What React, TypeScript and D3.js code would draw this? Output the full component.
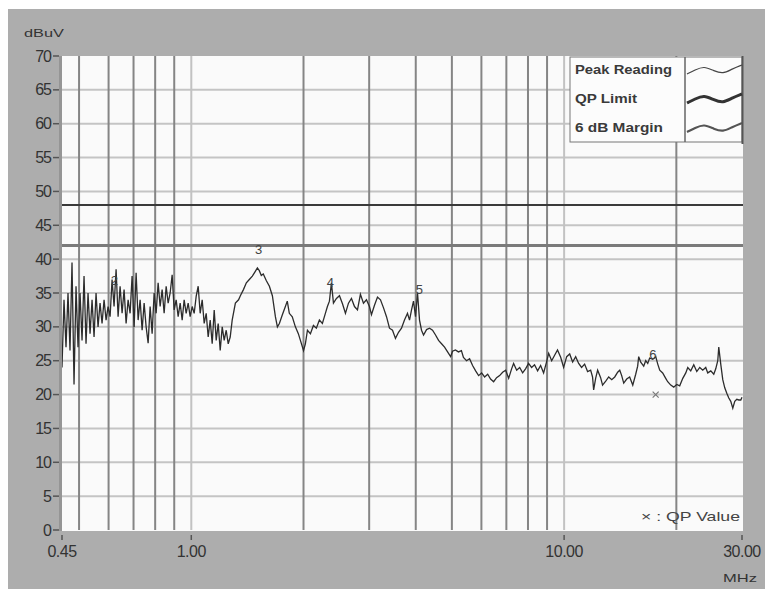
import React from "react";
import * as d3 from "d3";

// ---- data ----
const yTicks = [0, 5, 10, 15, 20, 25, 30, 35, 40, 45, 50, 55, 60, 65, 70];
const xTickValues = [0.45, 1, 10, 30];
const xTickLabels = ["0.45", "1.00", "10.00", "30.00"];
const gridFreqs = [0.5, 0.6, 0.7, 0.8, 0.9, 2, 3, 4, 5, 6, 7, 8, 9, 20];
const decadeFreqs = [1, 10];
const qpLimitDb = 48;
const marginDb = 42;
const qpValues: [number, number][] = [[17.6, 20]];
const peakLabels: [number, number, string][] = [
  [0.622, 36.2, "2"],
  [1.515, 40.8, "3"],
  [2.36, 35.9, "4"],
  [4.09, 34.8, "5"],
  [17.3, 25.2, "6"],
];
const legendItems = ["Peak Reading", "QP Limit", "6 dB Margin"];

const peakReading: [number, number][] = [
  [0.45, 24], [0.4556, 34], [0.4613, 27], [0.467, 35], [0.4728, 26.5], [0.4787, 39.5],
  [0.4847, 21.5], [0.4907, 36], [0.4968, 27], [0.503, 35], [0.5093, 28], [0.5156, 37.5],
  [0.522, 27.5], [0.5285, 35], [0.5351, 29], [0.5418, 34], [0.5485, 28.5], [0.5553, 35],
  [0.5622, 30], [0.5692, 33.5], [0.5763, 30.5], [0.5835, 34], [0.5908, 31], [0.5981, 33],
  [0.6056, 31.5], [0.6131, 37], [0.6207, 33], [0.6285, 38.5], [0.6363, 31.5], [0.6442, 36],
  [0.6522, 32], [0.6603, 35.5], [0.6686, 30.5], [0.6769, 34], [0.6853, 32], [0.6938, 37.5],
  [0.7025, 30], [0.7112, 38], [0.7201, 31], [0.729, 34], [0.7381, 29.5], [0.7473, 33.5],
  [0.7566, 30], [0.766, 27.6], [0.7755, 33], [0.7852, 29], [0.7949, 35], [0.8048, 32],
  [0.8148, 36.5], [0.825, 33], [0.8352, 35.5], [0.8456, 32], [0.8562, 36], [0.8668, 33.5],
  [0.8776, 35], [0.8885, 37.7], [0.8996, 32.5], [0.9108, 34], [0.9221, 31.5], [0.9336, 33.5],
  [0.9452, 31], [0.9569, 34], [0.9688, 32], [0.9809, 33.5], [0.9931, 31.5], [1.0055, 33],
  [1.018, 32], [1.0306, 34.5], [1.0435, 36], [1.0564, 32], [1.0696, 34], [1.0829, 30.5],
  [1.0964, 32], [1.11, 28.5], [1.1238, 31], [1.1378, 27.5], [1.152, 32.5], [1.1663, 28],
  [1.1808, 30.5], [1.1955, 26.5], [1.2104, 30], [1.2254, 28], [1.2407, 29.5], [1.2561, 27.5],
  [1.2717, 28.5], [1.2873, 31], [1.313, 33.5], [1.339, 34], [1.354, 34.6], [1.38, 35.5],
  [1.405, 36.5], [1.431, 37], [1.458, 37.5], [1.485, 38.2], [1.504, 38.7], [1.522, 38.3],
  [1.541, 37.6], [1.56, 37.8], [1.59, 36.8], [1.62, 36], [1.65, 34.6], [1.681, 31.5],
  [1.702, 30], [1.723, 30.5], [1.755, 31.8], [1.788, 33], [1.809, 33.8], [1.832, 32],
  [1.866, 31.5], [1.902, 30], [1.937, 29], [1.962, 28], [2.0, 26.5], [2.023, 27.5],
  [2.049, 29.5], [2.087, 29], [2.126, 30.2], [2.165, 29.8], [2.206, 31], [2.247, 30.5],
  [2.289, 32], [2.318, 33], [2.347, 33.8], [2.376, 36.5], [2.406, 33.5], [2.451, 34.2],
  [2.497, 34.6], [2.544, 33.4], [2.591, 32], [2.64, 33.5], [2.689, 34.2], [2.74, 33],
  [2.791, 32.5], [2.842, 34.8], [2.896, 33.5], [2.95, 34], [3.005, 33], [3.043, 31.8],
  [3.1, 33.2], [3.158, 34.4], [3.217, 34], [3.278, 32.8], [3.339, 31.5], [3.401, 29.8],
  [3.465, 29.5], [3.529, 28.3], [3.596, 29.2], [3.663, 29.8], [3.731, 31], [3.801, 32],
  [3.849, 31], [3.897, 32.5], [3.945, 33.8], [3.994, 31.5], [4.044, 35], [4.094, 31],
  [4.145, 29.5], [4.197, 28.8], [4.276, 29.6], [4.355, 29.8], [4.437, 29.5], [4.52, 28.8],
  [4.605, 28], [4.691, 27.5], [4.779, 27], [4.869, 26.3], [4.96, 25.6], [5.021, 26.4],
  [5.11, 26.6], [5.207, 26.3], [5.303, 26.5], [5.37, 25.5], [5.474, 25], [5.577, 25.3],
  [5.682, 24.3], [5.79, 23.5], [5.897, 22.8], [6.008, 23.2], [6.12, 22.6], [6.237, 23],
  [6.35, 22.3], [6.47, 21.9], [6.59, 22.5], [6.715, 22.8], [6.84, 23.3], [6.97, 23.6],
  [7.1, 22.4], [7.23, 23.8], [7.32, 24.6], [7.46, 23.6], [7.6, 24], [7.74, 23.2],
  [7.88, 23.8], [8.03, 24.6], [8.18, 24], [8.33, 24.4], [8.49, 23.5], [8.65, 24.3],
  [8.81, 23.2], [8.97, 24.8], [9.09, 26.1], [9.26, 25], [9.43, 25.8], [9.6, 26.6],
  [9.79, 25.5], [9.97, 24], [10.16, 25.6], [10.35, 26], [10.54, 24.8], [10.74, 25.6],
  [10.94, 24.6], [11.14, 24], [11.35, 24.5], [11.56, 23.4], [11.78, 23.6], [11.92, 22.6],
  [12.0, 20.7], [12.15, 22.4], [12.3, 23.6], [12.53, 22.5], [12.68, 21.4], [12.93, 22],
  [13.17, 22.6], [13.42, 22.2], [13.67, 22.6], [13.92, 23.3], [14.1, 23.6], [14.27, 22.8],
  [14.45, 21.7], [14.72, 22.3], [14.99, 22.6], [15.28, 21.4], [15.56, 23], [15.75, 24.2],
  [15.85, 25.6], [16.05, 24.8], [16.35, 24.2], [16.55, 25], [16.76, 24.6], [16.96, 25.4],
  [17.29, 25.2], [17.61, 25.6], [17.83, 24.5], [18.05, 23.6], [18.38, 23.2], [18.73, 22.4],
  [18.96, 21.9], [19.32, 21.4], [19.68, 21.1], [20.05, 21.5], [20.42, 21.3], [20.81, 22.4],
  [21.2, 23.2], [21.46, 24], [21.86, 23.5], [22.27, 24.4], [22.69, 23.4], [23.11, 24],
  [23.54, 23.6], [23.98, 24], [24.28, 23.2], [24.74, 23.5], [25.2, 23], [25.51, 23.8],
  [25.83, 25], [25.99, 27], [26.31, 24.5], [26.64, 22.2], [26.97, 21], [27.31, 20.2],
  [27.65, 19.5], [27.99, 19], [28.34, 18], [28.69, 19], [29.05, 19.3], [29.41, 19.2],
  [29.78, 19.2], [30.0, 19.6],
];

// ---- layout / style ----
const W = 773;
const H = 589;
const plotL = 62;
const plotR = 742;
const plotT = 56;
const plotB = 530;
const FONT = "'Liberation Sans', Arial, sans-serif";
const frameGray = "#adadad";

export default function App() {
  const x = d3.scaleLog().domain([0.45, 30]).range([plotL, plotR]);
  const y = d3.scaleLinear().domain([0, 70]).range([plotB, plotT]);

  const peakLine = d3
    .line<[number, number]>()
    .x((d) => x(d[0]))
    .y((d) => y(d[1]))(peakReading) as string;

  const legL = 570;
  const legR = 742;
  const legT = plotT + 1;
  const legB = 142;
  const legDiv = 685;
  const rowY = [70, 99, 128];
  const wave: [number, number][] = [
    [0, 5], [8, 1], [17, -3], [27, 2], [36, 5], [45, 0], [55, -4],
  ];
  const waveLine = d3
    .line<[number, number]>()
    .x((d) => d[0])
    .y((d) => d[1])
    .curve(d3.curveBasis)(wave) as string;
  const swatchStyles = [
    { stroke: "#444", width: 1.2 },
    { stroke: "#333", width: 3 },
    { stroke: "#555", width: 2.2 },
  ];

  return (
    <svg
      width={W - 8}
      height={H - 8}
      style={{ display: "block" }}
      fontFamily={FONT}
    >
      <g transform="translate(-8,-8)">
        <rect x={8} y={9} width={W - 8} height={H - 9} fill={frameGray} />
        {/* plot background */}
        <rect
          x={plotL}
          y={plotT}
          width={plotR - plotL + 1}
          height={plotB - plotT + 1}
          fill="#fafafa"
        />
        {/* horizontal grid */}
        {yTicks.slice(1, -1).map((t) => (
          <line
            key={"hg" + t}
            x1={plotL}
            x2={plotR + 1}
            y1={y(t)}
            y2={y(t)}
            stroke="#c4c4c4"
            strokeWidth={2}
          />
        ))}
        {/* vertical grid */}
        {decadeFreqs.map((f) => (
          <line
            key={"dg" + f}
            x1={x(f)}
            x2={x(f)}
            y1={plotT}
            y2={plotB}
            stroke="#c2c2c2"
            strokeWidth={2}
          />
        ))}
        {gridFreqs.map((f) => (
          <line
            key={"vg" + f}
            x1={x(f)}
            x2={x(f)}
            y1={plotT}
            y2={plotB}
            stroke="#858585"
            strokeWidth={2}
          />
        ))}
        {/* limit lines */}
        <line
          x1={plotL}
          x2={plotR + 1}
          y1={y(qpLimitDb)}
          y2={y(qpLimitDb)}
          stroke="#3a3a3a"
          strokeWidth={2}
        />
        <line
          x1={plotL}
          x2={plotR + 1}
          y1={y(marginDb)}
          y2={y(marginDb)}
          stroke="#7a7a7a"
          strokeWidth={3}
        />
        {/* peak reading trace */}
        <path d={peakLine} fill="none" stroke="#2c2c2c" strokeWidth={1.3} />
        {/* peak labels */}
        {peakLabels.map(([f, v, s]) => (
          <text
            key={"pl" + s}
            x={x(f)}
            y={y(v)}
            fontSize={13}
            textAnchor="middle"
            fill="#444"
          >
            {s}
          </text>
        ))}
        {/* QP values */}
        {qpValues.map(([f, v], i) => (
          <g key={"qp" + i} transform={`translate(${x(f)},${y(v)})`}>
            <line x1={-3} y1={-3} x2={3} y2={3} stroke="#777" strokeWidth={1.2} />
            <line x1={-3} y1={3} x2={3} y2={-3} stroke="#777" strokeWidth={1.2} />
          </g>
        ))}
        {/* plot left border */}
        <line
          x1={plotL - 1.5}
          x2={plotL - 1.5}
          y1={plotT}
          y2={plotB + 1}
          stroke="#959595"
          strokeWidth={3}
        />
        {/* legend */}
        <rect
          x={legL}
          y={legT}
          width={legR - legL}
          height={legB - legT}
          fill="#fcfcfc"
          stroke="#777"
          strokeWidth={1}
        />
        <line x1={legDiv} x2={legDiv} y1={legT} y2={legB} stroke="#666" strokeWidth={1.5} />
        <line x1={legR + 0.5} x2={legR + 0.5} y1={legT - 1} y2={legB + 2} stroke="#555" strokeWidth={2} />
        {legendItems.map((s, i) => (
          <g key={"lg" + i}>
            <text
              x={legL + 5}
              y={rowY[i] + 4}
              fontSize={13}
              fontWeight="bold"
              fill="#3a3a3a"
              textLength={[97, 62, 88][i]}
              lengthAdjust="spacingAndGlyphs"
            >
              {s}
            </text>
            <path
              d={waveLine}
              transform={`translate(${legDiv + 2},${rowY[i] - 1})`}
              fill="none"
              stroke={swatchStyles[i].stroke}
              strokeWidth={swatchStyles[i].width}
            />
          </g>
        ))}
        <text
          x={740}
          y={521}
          fontSize={13}
          textAnchor="end"
          fill="#444"
          textLength={99}
          lengthAdjust="spacingAndGlyphs"
        >
          × : QP Value
        </text>
        {/* y axis */}
        <text
          x={24}
          y={37}
          fontSize={11}
          fill="#333"
          textLength={40}
          lengthAdjust="spacingAndGlyphs"
        >
          dBuV
        </text>
        {yTicks.map((t) => (
          <g key={"yt" + t}>
            <line x1={53} x2={59} y1={y(t)} y2={y(t)} stroke="#555" strokeWidth={1.5} />
            <text
              x={51}
              y={y(t)}
              dy="0.35em"
              fontSize={16}
              letterSpacing={-1}
              textAnchor="end"
              fill="#333"
            >
              {t}
            </text>
          </g>
        ))}
        {/* x axis */}
        {xTickValues.map((f, i) => (
          <g key={"xt" + f}>
            <line x1={x(f)} x2={x(f)} y1={plotB + 5} y2={plotB + 10} stroke="#555" strokeWidth={1.5} />
            <text
              x={x(f)}
              y={557}
              fontSize={16}
              letterSpacing={-0.5}
              textAnchor="middle"
              fill="#333"
            >
              {xTickLabels[i]}
            </text>
          </g>
        ))}
        <text
          x={723}
          y={582}
          fontSize={11}
          fill="#333"
          textLength={34}
          lengthAdjust="spacingAndGlyphs"
        >
          MHz
        </text>
      </g>
    </svg>
  );
}
